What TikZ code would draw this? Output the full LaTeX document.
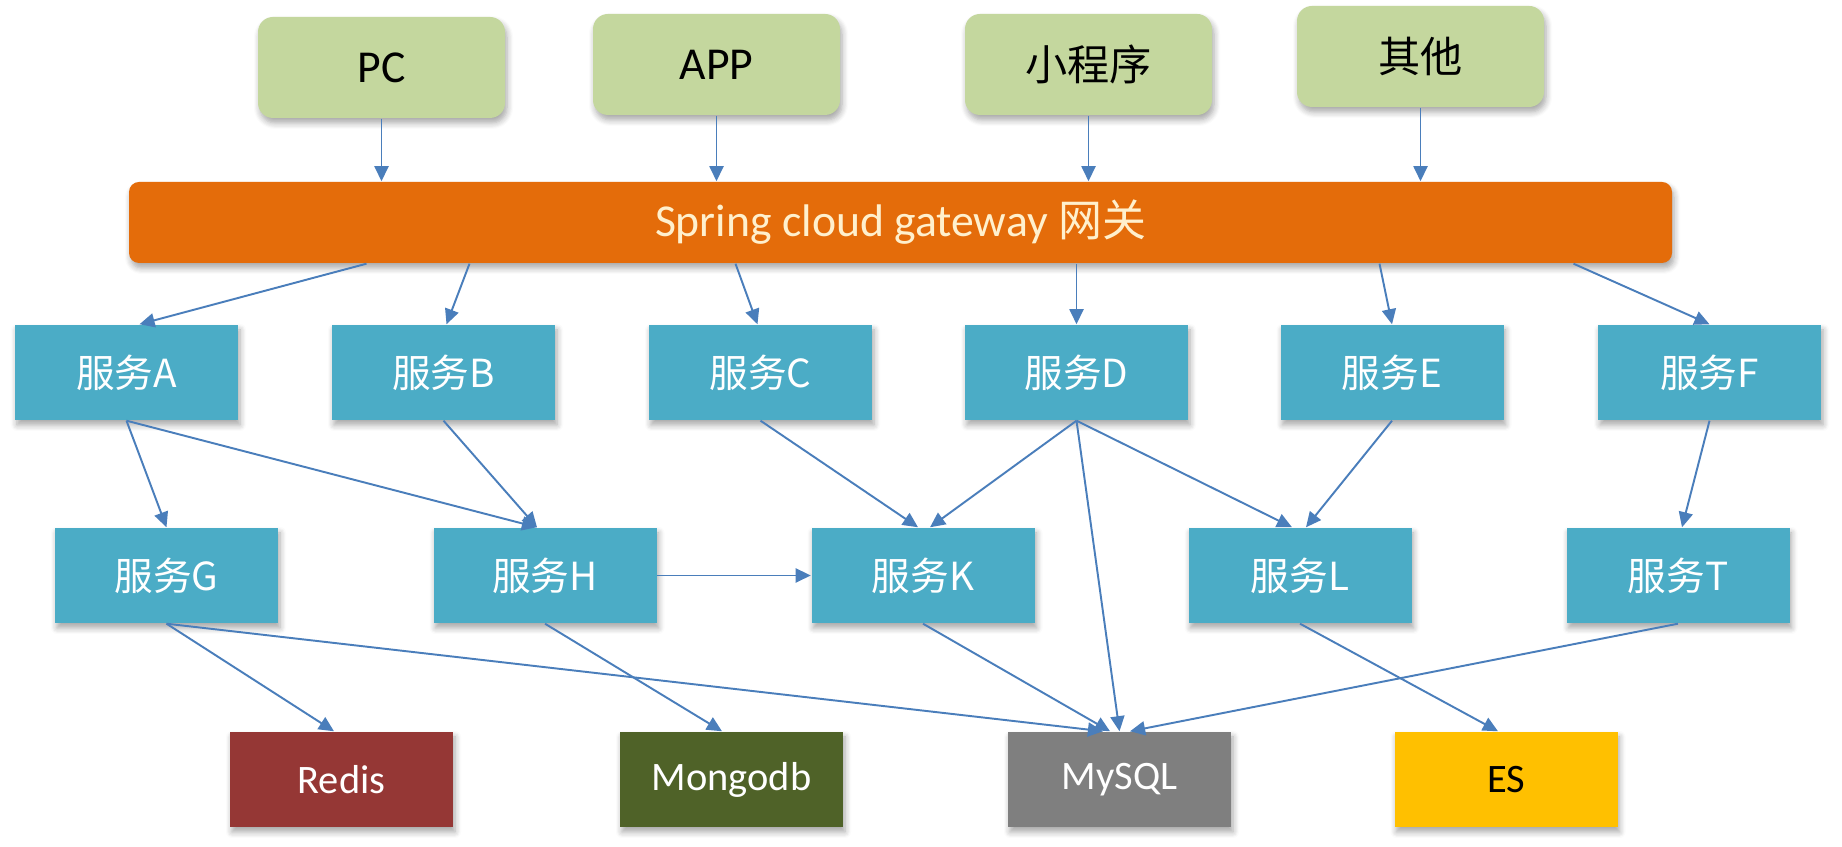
\documentclass[tikz,border=0pt]{standalone}
\usepackage{fontspec}
\setmainfont{Carlito}
\newfontfamily\cjk{Noto Sans CJK SC}
\usetikzlibrary{arrows.meta}
\usetikzlibrary{shadows.blur}

\definecolor{ClientGreen}{RGB}{196,215,158}
\definecolor{GateOrange}{RGB}{228,108,10}
\definecolor{GateText}{RGB}{255,240,205}
\definecolor{ServiceBlue}{RGB}{75,172,198}
\definecolor{RedisRed}{RGB}{149,55,53}
\definecolor{MongoGreen}{RGB}{79,98,40}
\definecolor{MysqlGray}{RGB}{127,127,127}
\definecolor{EsYellow}{RGB}{255,192,0}
\definecolor{LinkBlue}{RGB}{74,126,187}

\begin{document}
\begin{tikzpicture}
\tikzstyle{BoxShadow}=[blur shadow = {shadow xshift = 0.02cm, shadow yshift = -0.05cm,
                                      shadow blur radius = 0.06cm,
                                      shadow blur steps = 6, shadow opacity = 35}]
\tikzstyle{ClientStyle}=[shape = rectangle, rounded corners = 0.15cm,
                         fill = ClientGreen, inner sep = 0pt,
                         minimum width = 2.47cm, minimum height = 1.01cm,
                         font = \fontsize{13}{15}\selectfont, BoxShadow]
\tikzstyle{GatewayStyle}=[shape = rectangle, rounded corners = 0.1cm,
                          fill = GateOrange, text = GateText, inner sep = 0pt,
                          minimum width = 15.43cm, minimum height = 0.81cm,
                          font = \fontsize{13}{15}\selectfont, BoxShadow]
\tikzstyle{ServiceStyle}=[shape = rectangle, fill = ServiceBlue, text = white,
                          inner sep = 0pt,
                          minimum width = 2.23cm, minimum height = 0.95cm,
                          font = \cjk\fontsize{11}{13}\selectfont, BoxShadow]
\tikzstyle{StoreStyle}=[shape = rectangle, text = white, inner sep = 0pt,
                        minimum width = 2.23cm, minimum height = 0.95cm,
                        font = \fontsize{11.5}{13}\selectfont, BoxShadow]
\tikzstyle{EdgeStyle}=[draw = LinkBlue, line width = 0.55pt,
                       -{Triangle[length = 4.3pt, width = 4pt]}]
\useasboundingbox (0,0) rectangle (18.42,8.47);
\node[ClientStyle] (pc) at (3.815, 7.795) {PC};
\node[ClientStyle] (app) at (7.165, 7.825) {APP};
\node[ClientStyle] (mini) at (10.885, 7.825) {\cjk\fontsize{12}{14}\selectfont 小程序};
\node[ClientStyle] (other) at (14.205, 7.905) {\cjk\fontsize{12}{14}\selectfont 其他};
\node[GatewayStyle] (gw) at (9.005, 6.245) {Spring cloud gateway {\cjk\fontsize{12.5}{15}\selectfont 网关}};
\node[ServiceStyle] (sA) at (1.265, 4.745) {服务A};
\node[ServiceStyle] (sB) at (4.435, 4.745) {服务B};
\node[ServiceStyle] (sC) at (7.605, 4.745) {服务C};
\node[ServiceStyle] (sD) at (10.765, 4.745) {服务D};
\node[ServiceStyle] (sE) at (13.92, 4.745) {服务E};
\node[ServiceStyle] (sF) at (17.095, 4.745) {服务F};
\node[ServiceStyle] (sG) at (1.665, 2.715) {服务G};
\node[ServiceStyle] (sH) at (5.45, 2.715) {服务H};
\node[ServiceStyle] (sK) at (9.23, 2.715) {服务K};
\node[ServiceStyle] (sL) at (13.0, 2.715) {服务L};
\node[ServiceStyle] (sT) at (16.78, 2.715) {服务T};
\node[StoreStyle, fill = RedisRed] (redis) at (3.415, 0.675) {Redis};
\node[StoreStyle, fill = MongoGreen] (mongo) at (7.315, 0.675) {Mongodb};
\node[StoreStyle, fill = MysqlGray] (mysql) at (11.195, 0.675) {MySQL};
\node[StoreStyle, fill = EsYellow, text = black] (es) at (15.06, 0.675) {ES};
\draw[EdgeStyle] (pc) -- (pc |- gw.north);
\draw[EdgeStyle] (app) -- (app |- gw.north);
\draw[EdgeStyle] (mini) -- (mini |- gw.north);
\draw[EdgeStyle] (other) -- (other |- gw.north);
\draw[EdgeStyle] ([xshift = -5.34cm]gw.south) -- ([xshift = 0.13cm]sA.north);
\draw[EdgeStyle] ([xshift = -4.31cm]gw.south) -- ([xshift = 0.03cm]sB.north);
\draw[EdgeStyle] ([xshift = -1.65cm]gw.south) -- ([xshift = -0.03cm]sC.north);
\draw[EdgeStyle] (gw.south -| sD) -- (sD.north);
\draw[EdgeStyle] ([xshift = 4.79cm]gw.south) -- (sE.north);
\draw[EdgeStyle] ([xshift = 6.73cm]gw.south) -- (sF.north);
\draw[EdgeStyle] (sA.south) -- (sG.north);
\draw[EdgeStyle] (sA.south) -- ([xshift = -0.08cm]sH.north);
\draw[EdgeStyle] (sB.south) -- ([xshift = -0.08cm]sH.north);
\draw[EdgeStyle] (sC.south) -- ([xshift = -0.05cm]sK.north);
\draw[EdgeStyle] (sD.south) -- ([xshift = 0.07cm]sK.north);
\draw[EdgeStyle] (sD.south) -- ([xshift = -0.08cm]sL.north);
\draw[EdgeStyle] (sD.south) -- (mysql.north);
\draw[EdgeStyle] (sE.south) -- ([xshift = 0.06cm]sL.north);
\draw[EdgeStyle] (sF.south) -- ([xshift = 0.04cm]sT.north);
\draw[EdgeStyle] (sH.east) -- (sK.west);
\draw[EdgeStyle] (sG.south) -- ([xshift = -0.075cm]redis.north);
\draw[EdgeStyle] (sG.south) -- ([xshift = -0.165cm]mysql.north);
\draw[EdgeStyle] (sH.south) -- ([xshift = -0.095cm]mongo.north);
\draw[EdgeStyle] (sK.south) -- ([xshift = -0.095cm]mysql.north);
\draw[EdgeStyle] (sL.south) -- ([xshift = -0.08cm]es.north);
\draw[EdgeStyle] (sT.south) -- ([xshift = 0.105cm]mysql.north);
\end{tikzpicture}
\end{document}
